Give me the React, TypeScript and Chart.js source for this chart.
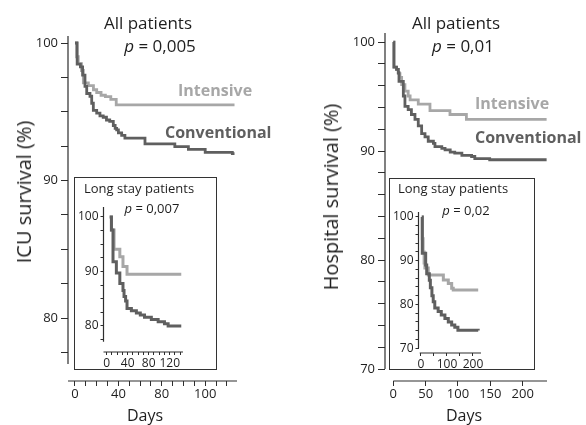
import React, { useEffect, useRef } from "react";
import { Chart, registerables } from "chart.js";

Chart.register(...registerables);

const FONT = '"Open Sans", "Noto Sans", sans-serif';
const LIGHT = "#a7a7a7";
const DARK = "#5f5f5f";
const AXIS = "#2e2e2e";
const TEXT = "#1e1e1e";

// ---------- ICU survival, all patients ----------
const ICU_INT_DAYS = [0, 1.5, 3, 6, 7.7, 12.3, 17, 20, 24, 28, 33, 38, 147];
const ICU_INT_SURV = [100, 99.0, 98.5, 98.0, 97.1, 96.9, 96.6, 96.4, 96.2, 96.1, 95.9, 95.5, 95.5];
const ICU_CONV_DAYS = [0, 2, 5, 7, 9.2, 10.8, 13.8, 15.4, 16.9, 20, 23, 26, 29, 32, 35.3, 37, 38.4, 40, 43, 46, 64.5, 92, 104.5, 120, 145, 147];
const ICU_CONV_SURV = [100, 98.47, 98.27, 97.66, 96.84, 96.33, 96.13, 95.62, 95.1, 94.9, 94.7, 94.6, 94.4, 94.3, 94.0, 93.79, 93.69, 93.47, 93.28, 93.08, 92.67, 92.46, 92.26, 92.05, 91.95, 91.95];

// ---------- Hospital survival, all patients ----------
const HOSP_INT_DAYS = [0, 1, 5, 7.7, 10.3, 12.9, 18, 23, 26, 38.6, 56.7, 87.6, 113, 237];
const HOSP_INT_SURV = [100, 97.7, 97.5, 97.1, 96.75, 96.1, 95.5, 95.05, 94.7, 94.3, 93.7, 93.35, 92.9, 92.9];
const HOSP_CONV_DAYS = [0, 1, 5, 7.7, 8.8, 15.5, 18, 23, 28, 33.5, 38.6, 43.8, 49, 54, 62, 64.4, 75, 80, 88, 95, 106, 121, 126, 149, 237];
const HOSP_CONV_SURV = [100, 97.7, 97.5, 97.2, 96.4, 95.05, 94.1, 93.8, 93.35, 92.9, 92.3, 91.6, 91.3, 90.9, 90.7, 90.4, 90.25, 90.1, 89.9, 89.8, 89.6, 89.5, 89.3, 89.2, 89.2];

// ---------- ICU survival, long stay patients ----------
const ICU_LS_INT_DAYS = [5.7, 9, 14, 25, 31, 38.7, 142];
const ICU_LS_INT_SURV = [100, 97.6, 94.1, 92.7, 90.9, 89.5, 89.5];
const ICU_LS_CONV_DAYS = [5.7, 9, 12, 18.4, 25, 31, 33, 36, 38.7, 47, 56.5, 64, 72, 85, 98, 110, 117, 142];
const ICU_LS_CONV_SURV = [100, 97.6, 91.8, 89.7, 87.8, 86.5, 85.4, 84.6, 83.2, 82.8, 82.4, 82.0, 81.6, 81.2, 80.8, 80.4, 80.0, 80.0];

// ---------- Hospital survival, long stay patients ----------
const HOSP_LS_INT_DAYS = [3, 5, 8, 12, 15, 28, 86, 105, 118, 124, 220];
const HOSP_LS_INT_SURV = [100, 95, 92, 89.5, 88.3, 86.7, 85.6, 84.8, 83.7, 83.3, 83.3];
const HOSP_LS_CONV_DAYS = [3, 5, 18, 22, 32, 36, 42, 47, 53, 66, 78, 92, 105, 118, 130, 142, 220];
const HOSP_LS_CONV_SURV = [100, 91.7, 89, 87, 85.5, 83.8, 82, 80.6, 79.2, 78.4, 77.6, 76.8, 76, 75.3, 74.8, 74.1, 74.0];

// ---------- ticks ----------
const ICU_Y_TICKS = [77.5, 80, 82.5, 85, 87.5, 90, 92.5, 95, 97.5, 100];
const ICU_Y_LABELS = ["", "80", "", "", "", "90", "", "", "", "100"];
const ICU_X_TICKS = [0, 10, 20, 30, 40, 50, 60, 70, 80, 90, 100, 110, 120, 130, 140];
const ICU_X_LABELS = ["0", "", "", "", "40", "", "", "", "80", "", "", "", "100", "", ""];
const HOSP_Y_TICKS = [70, 72, 74, 76, 78, 80, 82, 84, 86, 88, 90, 92, 94, 96, 98, 100];
const HOSP_Y_LABELS = ["70", "", "", "", "", "80", "", "", "", "", "90", "", "", "", "", "100"];
const HOSP_X_TICKS = [0, 50, 100, 150, 200];
const HOSP_X_LABELS = ["0", "50", "100", "150", "200"];
const ICU_LS_X_LABELS = ["0", "", "", "", "40", "", "", "", "80", "", "", "", "120", "", ""];
const HOSP_LS_X_LABELS = ["0", "", "100", "", "200"];

type Series = { days: number[]; surv: number[]; color: string };
type PanelCfg = {
  canvas: [number, number, number, number];
  area: [number, number, number, number];
  xMin: number; xMax: number; yMin: number; yMax: number;
  xTicks: number[]; xLabels: string[]; yTicks: number[]; yLabels: string[];
  yLineTo: number; xLineFrom: number;
  yTickLen: number; xTickLen: number; yPad: number; xPad: number;
  tickFont: number; lineWidth: number;
  series: Series[];
};

const axisLines = {
  id: "axisLines",
  afterDraw(chart: any, _args: any, opts: any) {
    const { ctx, chartArea, scales } = chart;
    ctx.save();
    ctx.strokeStyle = AXIS;
    ctx.lineWidth = 1.2;
    ctx.beginPath();
    const yb = scales.y.getPixelForValue(opts.yLineTo);
    ctx.moveTo(chartArea.left, chartArea.top);
    ctx.lineTo(chartArea.left, yb);
    const xl = scales.x.getPixelForValue(opts.xLineFrom);
    ctx.moveTo(xl, chartArea.bottom);
    ctx.lineTo(chartArea.right, chartArea.bottom);
    ctx.stroke();
    ctx.restore();
  },
};

function KMPanel({ cfg }: { cfg: PanelCfg }) {
  const ref = useRef<HTMLCanvasElement>(null);
  useEffect(() => {
    const c = cfg;
    const [cl, ct, cw, ch] = c.canvas;
    const [L, T, R, B] = c.area;
    const chart = new Chart(ref.current as HTMLCanvasElement, {
      type: "line",
      data: {
        datasets: c.series.map((s) => ({
          data: s.days.map((d, i) => ({ x: d, y: s.surv[i] })),
          borderColor: s.color,
          borderWidth: c.lineWidth,
          stepped: true,
          pointRadius: 0,
          fill: false,
          borderCapStyle: "butt",
          borderJoinStyle: "miter",
        })),
      },
      options: {
        responsive: false,
        animation: false,
        devicePixelRatio: 1,
        events: [],
        layout: { padding: { left: 0, top: T - ct, right: cl + cw - R, bottom: 0 } },
        plugins: {
          legend: { display: false },
          tooltip: { enabled: false },
          axisLines: { yLineTo: c.yLineTo, xLineFrom: c.xLineFrom },
        } as any,
        scales: {
          x: {
            type: "linear",
            bounds: "data",
            min: c.xMin,
            max: c.xMax,
            border: { display: false },
            grid: { drawOnChartArea: false, drawTicks: true, tickLength: c.xTickLen, color: AXIS, tickColor: AXIS, lineWidth: 1 },
            ticks: {
              autoSkip: false, maxRotation: 0, minRotation: 0, padding: c.xPad, color: TEXT,
              font: { family: FONT, size: c.tickFont },
              callback: (_v: any, i: number) => c.xLabels[i] ?? "",
            },
            afterBuildTicks: (s: any) => { s.ticks = c.xTicks.map((v) => ({ value: v })); },
            afterFit: (s: any) => { s.height = ct + ch - B; },
          },
          y: {
            type: "linear",
            bounds: "data",
            min: c.yMin,
            max: c.yMax,
            border: { display: false },
            grid: { drawOnChartArea: false, drawTicks: true, tickLength: c.yTickLen, color: AXIS, tickColor: AXIS, lineWidth: 1 },
            ticks: {
              autoSkip: false, padding: c.yPad, color: TEXT,
              font: { family: FONT, size: c.tickFont },
              callback: (_v: any, i: number) => c.yLabels[i] ?? "",
            },
            afterBuildTicks: (s: any) => { s.ticks = c.yTicks.map((v) => ({ value: v })); },
            afterFit: (s: any) => { s.width = L - cl; },
          },
        } as any,
      },
      plugins: [axisLines],
    } as any);
    return () => chart.destroy();
  }, [cfg]);
  const [cl, ct, cw, ch] = cfg.canvas;
  return (
    <canvas
      ref={ref}
      width={cw}
      height={ch}
      style={{ position: "absolute", left: cl, top: ct, width: cw, height: ch }}
    />
  );
}

const ICU_MAIN: PanelCfg = {
  canvas: [0, 0, 293, 425], area: [68, 36, 237, 381],
  xMin: -6.45, xMax: 149.3, yMin: 75.42, yMax: 100.51,
  xTicks: ICU_X_TICKS, xLabels: ICU_X_LABELS, yTicks: ICU_Y_TICKS, yLabels: ICU_Y_LABELS,
  yLineTo: 76.65, xLineFrom: -6.45,
  yTickLen: 7, xTickLen: 5, yPad: 3, xPad: 0, tickFont: 13, lineWidth: 2.8,
  series: [
    { days: ICU_CONV_DAYS, surv: ICU_CONV_SURV, color: DARK },
    { days: ICU_INT_DAYS, surv: ICU_INT_SURV, color: LIGHT },
  ],
};

const HOSP_MAIN: PanelCfg = {
  canvas: [293, 0, 293, 425], area: [385, 33, 547, 381],
  xMin: -12.83, xMax: 237.6, yMin: 68.9, yMax: 100.83,
  xTicks: HOSP_X_TICKS, xLabels: HOSP_X_LABELS, yTicks: HOSP_Y_TICKS, yLabels: HOSP_Y_LABELS,
  yLineTo: 70, xLineFrom: 0,
  yTickLen: 7, xTickLen: 5, yPad: 3, xPad: 0, tickFont: 13, lineWidth: 2.8,
  series: [
    { days: HOSP_CONV_DAYS, surv: HOSP_CONV_SURV, color: DARK },
    { days: HOSP_INT_DAYS, surv: HOSP_INT_SURV, color: LIGHT },
  ],
};

const ICU_INSET: PanelCfg = {
  canvas: [75, 178, 141, 191], area: [103.5, 207, 183, 352],
  xMin: -6.1, xMax: 145.3, yMin: 75.23, yMax: 101.83,
  xTicks: ICU_X_TICKS, xLabels: ICU_LS_X_LABELS, yTicks: ICU_Y_TICKS, yLabels: ICU_Y_LABELS,
  yLineTo: 77.1, xLineFrom: -6.1,
  yTickLen: 3, xTickLen: 3, yPad: 2, xPad: 1, tickFont: 12, lineWidth: 3,
  series: [
    { days: ICU_LS_CONV_DAYS, surv: ICU_LS_CONV_SURV, color: DARK },
    { days: ICU_LS_INT_DAYS, surv: ICU_LS_INT_SURV, color: LIGHT },
  ],
};

const HOSP_INSET: PanelCfg = {
  canvas: [390, 179, 144, 190], area: [418.5, 212, 481, 353],
  xMin: -9.6, xMax: 230.8, yMin: 68.88, yMax: 101.14,
  xTicks: HOSP_X_TICKS, xLabels: HOSP_LS_X_LABELS, yTicks: HOSP_Y_TICKS, yLabels: HOSP_Y_LABELS,
  yLineTo: 70, xLineFrom: -5,
  yTickLen: 3, xTickLen: 3, yPad: 2, xPad: 1, tickFont: 12, lineWidth: 3,
  series: [
    { days: HOSP_LS_CONV_DAYS, surv: HOSP_LS_CONV_SURV, color: DARK },
    { days: HOSP_LS_INT_DAYS, surv: HOSP_LS_INT_SURV, color: LIGHT },
  ],
};

function Txt(props: { x: number; y: number; size: number; children: any; anchor?: "c" | "l"; bold?: boolean; color?: string; rotate?: boolean }) {
  const { x, y, size, anchor = "c", bold, color = TEXT, rotate } = props;
  const tx = anchor === "c" ? "-50%" : "0";
  return (
    <div
      style={{
        position: "absolute", left: x, top: y, whiteSpace: "nowrap",
        fontFamily: FONT, fontSize: size, lineHeight: 1, fontWeight: bold ? 700 : 400, color,
        transform: `translate(${tx}, -50%)${rotate ? " rotate(-90deg)" : ""}`,
        transformOrigin: rotate ? "50% 50%" : undefined,
      }}
    >
      {props.children}
    </div>
  );
}

function Box({ x, y, w, h }: { x: number; y: number; w: number; h: number }) {
  return (
    <div style={{ position: "absolute", left: x, top: y, width: w, height: h, boxSizing: "border-box", border: "1.3px solid #333", background: "#fff" }} />
  );
}

export default function App() {
  useEffect(() => {
    document.body.style.margin = "0";
  }, []);
  return (
    <div style={{ position: "fixed", left: 0, top: 0, width: 586, height: 425, background: "#fff", overflow: "hidden" }}>
      <KMPanel cfg={ICU_MAIN} />
      <KMPanel cfg={HOSP_MAIN} />

      <Txt x={148} y={22} size={17}>All patients</Txt>
      <Txt x={160} y={45} size={17}><i>p</i> = 0,005</Txt>
      <Txt x={178} y={90} size={16} anchor="l" bold color={LIGHT}>Intensive</Txt>
      <Txt x={165} y={132} size={16} anchor="l" bold color={DARK}>Conventional</Txt>
      <Txt x={24} y={192} size={20} rotate>ICU survival (%)</Txt>
      <Txt x={145} y={415} size={16}>Days</Txt>

      <Txt x={456} y={22} size={17}>All patients</Txt>
      <Txt x={463} y={45} size={17}><i>p</i> = 0,01</Txt>
      <Txt x={475} y={103} size={16} anchor="l" bold color={LIGHT}>Intensive</Txt>
      <Txt x={475} y={137} size={16} anchor="l" bold color={DARK}>Conventional</Txt>
      <Txt x={331} y={197} size={20} rotate>Hospital survival (%)</Txt>
      <Txt x={464} y={415} size={16}>Days</Txt>

      <Box x={74} y={177} w={143} h={193} />
      <KMPanel cfg={ICU_INSET} />
      <Txt x={84} y={188} size={13} anchor="l">Long stay patients</Txt>
      <Txt x={152} y={208} size={13}><i>p</i> = 0,007</Txt>

      <Box x={389} y={178} w={146} h={192} />
      <KMPanel cfg={HOSP_INSET} />
      <Txt x={398} y={188} size={13} anchor="l">Long stay patients</Txt>
      <Txt x={466} y={210} size={13}><i>p</i> = 0,02</Txt>
    </div>
  );
}
